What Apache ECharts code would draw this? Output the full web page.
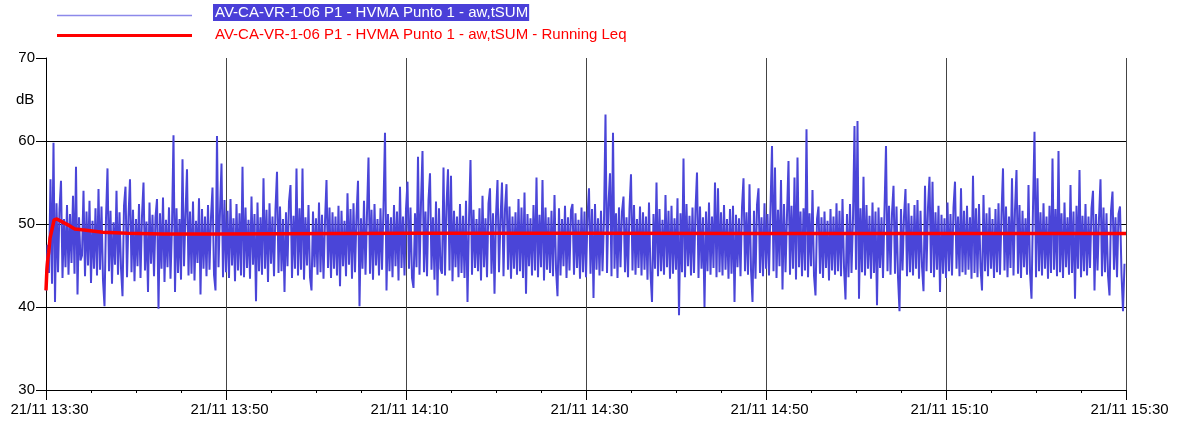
<!DOCTYPE html>
<html>
<head>
<meta charset="utf-8">
<script src="https://cdn.jsdelivr.net/npm/echarts@6/dist/echarts.min.js"></script>
<style>
  html, body { margin: 0; padding: 0; background: #fff; }
  #chart { width: 1182px; height: 424px; }
</style>
</head>
<body>
<div id="chart"></div>
<script>
// x tick labels, one every 20 minutes
var timeLabels = ['21/11 13:30', '21/11 13:50', '21/11 14:10', '21/11 14:30', '21/11 14:50', '21/11 15:10', '21/11 15:30'];
var stepSeconds = 10;

// aw,tSUM level (dB), one reading every 10 s, 12 per row = 2 minutes
var awSum = [
  42.0, 47.5, 44.1, 55.4, 42.8, 59.8, 40.6, 52.5, 44.2, 51.8, 55.2, 43.5,
  50.6, 44.8, 52.3, 43.9, 51.2, 45.3, 53.4, 44.0, 56.9, 41.5, 50.8, 45.6,
  46.2, 54.0, 43.7, 51.5, 45.0, 52.8, 42.9, 50.4, 44.6, 51.9, 43.8, 54.2,
  44.5, 52.1, 43.2, 40.1, 50.7, 56.7, 44.3, 51.6, 42.8, 50.2, 45.1, 54.0,
  43.9, 51.4, 44.7, 41.3, 52.2, 54.5, 43.6, 50.9, 55.4, 44.2, 51.7, 43.1,
  50.6, 44.9, 52.4, 43.5, 51.0, 55.0, 44.4, 50.3, 41.8, 52.6, 45.2, 51.1,
  43.7, 50.8, 53.0, 39.8, 51.3, 44.6, 53.2, 43.0, 50.5, 44.8, 52.0, 43.4,
  49.8, 60.7, 41.8, 51.9, 44.1, 50.6, 43.3, 57.8, 44.9, 51.2, 56.6, 43.8,
  51.5, 44.0, 52.7, 43.2, 50.4, 45.3, 53.1, 41.5, 51.8, 44.6, 50.9, 43.7,
  52.3, 44.5, 50.8, 54.4, 43.9, 42.0, 60.6, 44.8, 51.5, 57.3, 43.6, 52.9,
  44.2, 51.6, 43.5, 53.0, 45.0, 50.7, 43.1, 52.4, 44.4, 51.3, 43.8, 56.9,
  43.6, 52.0, 44.7, 50.5, 43.4, 53.3, 45.1, 51.2, 40.7, 52.6, 44.3, 50.8,
  43.9, 55.5, 44.6, 51.7, 43.0, 52.5, 45.2, 50.9, 43.7, 51.8, 56.3, 44.1,
  52.1, 44.3, 50.6, 41.8, 51.4, 44.9, 52.7, 54.7, 43.5, 51.0, 44.6, 56.7,
  43.8, 51.9, 44.5, 56.7, 43.3, 50.8, 45.0, 52.3, 43.6, 42.0, 51.5, 44.8,
  50.7, 43.9, 52.6, 44.2, 51.1, 43.4, 50.3, 55.3, 44.7, 52.0, 43.5, 51.4,
  44.6, 50.9, 43.8, 52.2, 42.5, 51.6, 44.9, 50.4, 43.7, 53.7, 45.1, 51.8,
  43.4, 52.5, 44.2, 51.0, 55.2, 40.1, 50.7, 44.6, 52.8, 43.9, 51.3, 58.0,
  44.0, 51.7, 43.3, 52.4, 45.0, 50.6, 43.8, 51.9, 44.5, 52.1, 61.0, 42.0,
  51.2, 44.3, 50.8, 43.6, 52.3, 44.9, 51.5, 43.2, 54.5, 44.7, 50.9, 43.8,
  51.8, 55.1, 44.6, 52.0, 43.5, 42.3, 51.3, 44.8, 58.1, 43.9, 52.6, 58.8,
  44.2, 51.5, 43.7, 52.9, 56.1, 44.5, 50.8, 43.3, 52.7, 41.4, 51.9, 44.6,
  44.0, 56.8, 43.8, 52.2, 56.6, 44.4, 55.8, 43.1, 51.6, 44.8, 50.9, 43.6,
  52.4, 44.1, 51.0, 43.5, 52.8, 40.6, 50.5, 57.7, 43.9, 51.7, 44.7, 50.6,
  44.3, 51.9, 43.2, 53.4, 44.8, 50.7, 43.6, 52.5, 54.3, 44.0, 51.3, 41.6,
  51.0, 55.3, 44.2, 50.6, 55.0, 43.7, 51.8, 54.8, 44.5, 52.1, 43.4, 50.9,
  44.6, 51.4, 43.9, 53.0, 44.3, 52.0, 43.5, 53.8, 41.6, 51.2, 44.9, 50.7,
  43.8, 52.3, 44.4, 55.6, 43.6, 51.1, 44.8, 55.3, 43.2, 52.0, 44.5, 50.8,
  44.1, 51.6, 43.7, 53.5, 44.6, 41.3, 51.9, 43.8, 50.6, 44.9, 52.2, 43.5,
  50.8, 44.4, 51.7, 52.4, 43.9, 51.3, 44.7, 50.5, 43.4, 52.0, 44.2, 51.5,
  43.6, 50.9, 54.3, 44.0, 51.8, 41.1, 52.4, 44.5, 50.7, 43.8, 51.6, 44.3,
  50.6, 63.2, 44.1, 52.5, 56.1, 43.7, 61.0, 44.6, 51.3, 43.5, 52.0, 44.8,
  51.5, 53.3, 44.2, 50.8, 43.6, 51.9, 56.0, 44.4, 52.3, 43.9, 50.6, 44.7,
  52.1, 43.8, 51.4, 44.5, 50.9, 43.3, 52.6, 44.1, 40.6, 51.2, 44.6, 55.0,
  43.7, 51.8, 44.3, 50.5, 43.9, 53.5, 44.8, 51.6, 43.4, 52.2, 44.0, 50.7,
  44.5, 53.1, 39.0, 51.3, 44.2, 57.9, 43.6, 52.4, 44.9, 51.0, 43.8, 52.0,
  44.1, 51.7, 56.2, 43.5, 52.1, 44.6, 50.8, 40.0, 51.5, 44.3, 52.6, 43.9,
  50.9, 44.7, 55.0, 43.6, 54.3, 44.2, 51.4, 43.8, 52.3, 44.5, 50.6, 43.4,
  51.8, 44.0, 52.2, 40.6, 51.1, 44.8, 50.7, 43.7, 52.0, 55.5, 44.3, 51.4,
  43.9, 54.8, 44.5, 40.6, 51.6, 43.4, 52.3, 54.3, 44.1, 50.8, 43.7, 52.5,
  44.6, 51.2, 43.8, 52.0, 59.4, 44.3, 56.8, 43.5, 51.7, 44.9, 55.3, 42.1,
  52.4, 44.2, 51.1, 57.6, 43.9, 52.2, 44.6, 55.6, 43.3, 58.0, 44.8, 51.5,
  43.7, 51.9, 44.4, 61.4, 43.6, 51.3, 44.9, 54.1, 43.8, 41.4, 50.6, 52.1,
  44.0, 50.8, 43.5, 51.5, 44.7, 50.4, 43.2, 51.8, 44.4, 50.9, 43.9, 52.5,
  44.3, 51.6, 43.7, 53.0, 44.8, 40.9, 51.2, 43.6, 52.4, 44.1, 50.7, 61.8,
  44.5, 62.4, 41.0, 51.9, 44.2, 55.7, 43.8, 52.3, 44.6, 51.0, 43.4, 52.6,
  44.1, 51.5, 40.2, 52.0, 44.7, 50.8, 43.5, 51.7, 59.4, 44.3, 52.2, 43.9,
  51.3, 54.6, 44.0, 52.1, 43.6, 39.5, 51.8, 44.4, 50.9, 54.2, 43.7, 52.5,
  44.2, 51.0, 43.8, 52.3, 44.6, 52.9, 43.4, 51.6, 44.9, 41.9, 54.6, 44.3,
  52.0, 55.7, 44.1, 55.1, 43.6, 51.4, 44.5, 52.2, 41.8, 51.1, 44.0, 50.7,
  43.5, 52.6, 44.3, 51.2, 43.8, 52.0, 55.1, 44.6, 50.9, 43.7, 54.3, 44.2,
  51.6, 43.9, 52.2, 44.5, 50.8, 43.4, 55.8, 44.1, 51.9, 43.6, 52.4, 44.8,
  42.0, 53.5, 44.3, 51.3, 43.7, 52.0, 44.6, 50.6, 43.5, 51.8, 44.2, 52.5,
  43.9, 51.2, 56.7, 44.4, 52.1, 43.6, 50.9, 44.7, 55.5, 43.8, 51.7, 56.5,
  44.0, 52.3, 43.5, 51.6, 44.8, 50.7, 43.9, 54.7, 44.2, 41.0, 52.0, 61.1,
  43.6, 55.5, 44.3, 51.4, 43.8, 52.5, 44.6, 50.9, 43.4, 52.2, 44.1, 57.9,
  44.5, 51.8, 43.7, 58.8, 44.2, 51.3, 43.5, 52.6, 44.8, 50.8, 43.9, 54.7,
  44.1, 51.5, 41.0, 52.2, 44.6, 56.5, 43.6, 51.0, 44.3, 52.4, 43.8, 50.9,
  44.7, 51.9, 54.0, 42.0, 51.2, 44.4, 50.7, 55.4, 43.7, 52.0, 44.2, 51.3,
  43.8, 41.4, 51.6, 53.9, 44.5, 50.8, 43.6, 51.2, 52.1, 44.0, 39.5, 45.2
];

// running Leq (minutes after 13:30, dB)
var leqMinutes = [0, 0.1, 0.2, 0.3, 0.45, 0.6, 0.9, 1.2, 1.9, 2.6, 3.2, 4.0, 4.9, 6.3, 9, 13, 18.9, 19.1, 40, 60, 80, 100, 120];
var leqValues  = [42.0, 44.5, 45.8, 46.6, 48.3, 48.5, 50.5, 50.6, 50.2, 49.8, 49.4, 49.3, 49.2, 49.0, 48.9, 48.8, 48.8, 48.9, 48.9, 48.9, 48.85, 48.85, 48.85];

var blueName = 'AV-CA-VR-1-06 P1 - HVMA Punto 1 - aw,tSUM';
var redName = 'AV-CA-VR-1-06 P1 - HVMA Punto 1 - aw,tSUM - Running Leq';

var blueData = awSum.map(function (v, i) { return [i * stepSeconds / 60, v]; });
var redData = leqMinutes.map(function (m, i) { return [m, leqValues[i]]; });

var font = "'Liberation Sans', Arial, sans-serif";
var chart = echarts.init(document.getElementById('chart'));

var option = {
  animation: false,
  backgroundColor: '#fff',
  grid: { left: 46, right: 56, top: 58, bottom: 34 },
  xAxis: {
    type: 'value',
    min: 0, max: 120, interval: 20,
    axisLine: { lineStyle: { color: '#000', width: 1 } },
    axisTick: { length: 10, lineStyle: { color: '#000' } },
    minorTick: { show: true, splitNumber: 4, length: 3, lineStyle: { color: '#000' } },
    axisLabel: {
      color: '#000', fontFamily: font, fontSize: 15, margin: 12,
      padding: [0, 0, 0, 7],
      formatter: function (v) { return timeLabels[Math.round(v / 20)]; }
    },
    splitLine: { show: true, lineStyle: { color: '#444', width: 1 } }
  },
  yAxis: {
    type: 'value',
    min: 30, max: 70, interval: 10,
    axisLine: { show: true, lineStyle: { color: '#000', width: 1 } },
    axisTick: { show: true, length: 10, lineStyle: { color: '#000' } },
    axisLabel: { color: '#000', fontFamily: font, fontSize: 15, margin: 11 },
    splitLine: { show: true, showMaxLine: false, lineStyle: { color: '#000', width: 1 } }
  },
  graphic: [
    { type: 'text', left: 16, top: 92, style: { text: 'dB', fill: '#000', font: '15px ' + font } },
    { type: 'line', shape: { x1: 57, y1: 15.5, x2: 192, y2: 15.5 }, style: { stroke: '#8c89ea', lineWidth: 1.5 } },
    { type: 'text', left: 213, top: 4, style: {
        text: blueName, fill: '#fff', font: '15px ' + font,
        backgroundColor: '#4a3fd8', padding: [1, 1, 1, 2] } },
    { type: 'line', shape: { x1: 57, y1: 35.5, x2: 192, y2: 35.5 }, style: { stroke: '#ff0000', lineWidth: 3 } },
    { type: 'text', left: 215, top: 27, style: { text: redName, fill: '#ff0000', font: '15px ' + font } }
  ],
  series: [
    {
      name: blueName,
      type: 'line',
      data: blueData,
      symbol: 'none',
      sampling: null,
      lineStyle: { color: '#4a45d8', width: 2 },
      z: 2
    },
    {
      name: redName,
      type: 'line',
      data: redData,
      symbol: 'none',
      lineStyle: { color: '#ff0000', width: 3.5 },
      z: 3
    }
  ]
};

chart.setOption(option);
</script>
</body>
</html>
